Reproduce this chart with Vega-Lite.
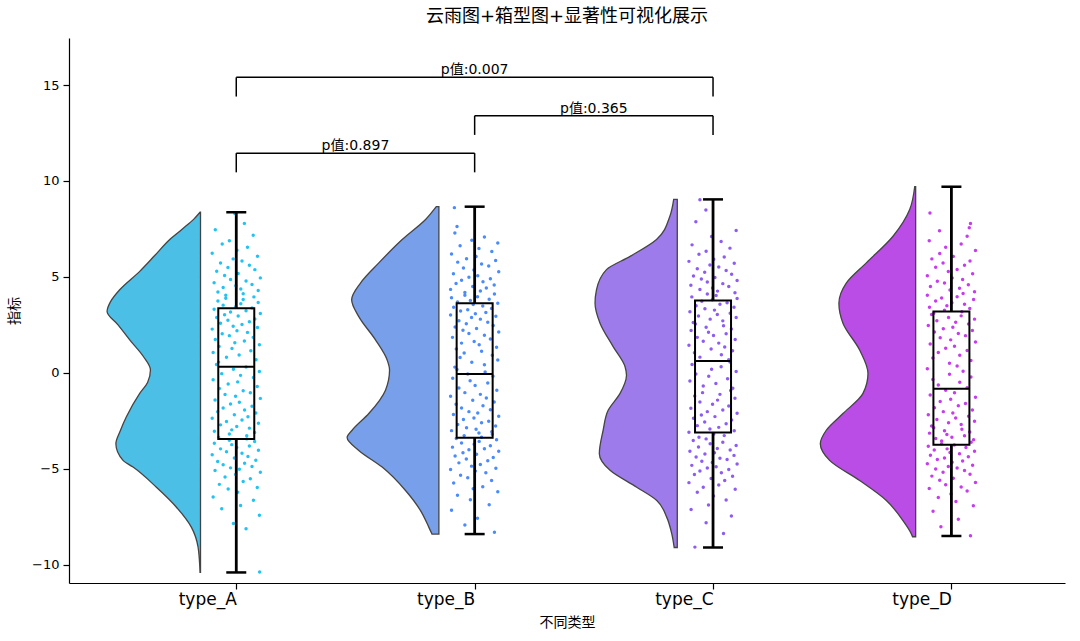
{
"$schema":"https://vega.github.io/schema/vega-lite/v6.json",
"width":996,"height":545,
"autosize":{"type":"none"},
"padding":{"left":69,"top":38,"right":15,"bottom":58},
"background":"white",
"title":{"text":"云雨图+箱型图+显著性可视化展示","fontSize":18,"font":"DejaVu Sans, Noto Sans CJK SC","fontWeight":"normal","color":"black","offset":12,"anchor":"middle"},
"config":{"view":{"stroke":null},"axis":{"domainColor":"black","tickColor":"black","labelColor":"black","titleColor":"black","grid":false,"labelFont":"DejaVu Sans","titleFont":"Noto Sans CJK SC","titleFontWeight":"normal","domainWidth":1.2,"tickWidth":1.2,"tickSize":6}},
"datasets":{
"violin":[
{"k":0,"v":8.37,"d":0.002},{"k":0,"v":8.0,"d":0.029},{"k":0,"v":7.5,"d":0.076},{"k":0,"v":6.95,"d":0.129},{"k":0,"v":6.1,"d":0.193},{"k":0,"v":5.29,"d":0.255},{"k":0,"v":4.33,"d":0.339},{"k":0,"v":3.7,"d":0.378},{"k":0,"v":3.2,"d":0.392},{"k":0,"v":2.5,"d":0.346},{"k":0,"v":1.72,"d":0.297},{"k":0,"v":0.84,"d":0.239},{"k":0,"v":0.15,"d":0.21},{"k":0,"v":-0.5,"d":0.222},{"k":0,"v":-1.07,"d":0.255},{"k":0,"v":-2.29,"d":0.311},{"k":0,"v":-3.0,"d":0.336},{"k":0,"v":-3.69,"d":0.355},{"k":0,"v":-4.56,"d":0.325},{"k":0,"v":-4.91,"d":0.283},{"k":0,"v":-5.96,"d":0.185},{"k":0,"v":-7.0,"d":0.101},{"k":0,"v":-8.05,"d":0.038},{"k":0,"v":-9.1,"d":0.01},{"k":0,"v":-10.4,"d":0.002},
{"k":1,"v":8.66,"d":0.011},{"k":1,"v":7.99,"d":0.056},{"k":1,"v":6.95,"d":0.154},{"k":1,"v":5.73,"d":0.252},{"k":1,"v":4.68,"d":0.329},{"k":1,"v":3.81,"d":0.366},{"k":1,"v":2.93,"d":0.336},{"k":1,"v":1.72,"d":0.266},{"k":1,"v":0.67,"d":0.217},{"k":1,"v":0.15,"d":0.207},{"k":1,"v":-0.9,"d":0.224},{"k":1,"v":-2.12,"d":0.294},{"k":1,"v":-2.99,"d":0.364},{"k":1,"v":-3.37,"d":0.385},{"k":1,"v":-4.04,"d":0.336},{"k":1,"v":-4.91,"d":0.238},{"k":1,"v":-6.13,"d":0.14},{"k":1,"v":-7.18,"d":0.077},{"k":1,"v":-8.05,"d":0.042},{"k":1,"v":-8.4,"d":0.029},
{"k":2,"v":9.04,"d":0.015},{"k":2,"v":8.16,"d":0.031},{"k":2,"v":6.95,"d":0.087},{"k":2,"v":6.07,"d":0.198},{"k":2,"v":5.38,"d":0.297},{"k":2,"v":4.33,"d":0.339},{"k":2,"v":3.63,"d":0.345},{"k":2,"v":2.59,"d":0.324},{"k":2,"v":1.37,"d":0.269},{"k":2,"v":0.32,"d":0.219},{"k":2,"v":-0.12,"d":0.213},{"k":2,"v":-1.07,"d":0.24},{"k":2,"v":-1.95,"d":0.29},{"k":2,"v":-2.99,"d":0.311},{"k":2,"v":-4.21,"d":0.327},{"k":2,"v":-5.08,"d":0.282},{"k":2,"v":-5.96,"d":0.17},{"k":2,"v":-6.65,"d":0.086},{"k":2,"v":-7.53,"d":0.044},{"k":2,"v":-8.39,"d":0.023},{"k":2,"v":-9.1,"d":0.013},
{"k":3,"v":9.7,"d":0.004},{"k":3,"v":8.51,"d":0.025},{"k":3,"v":7.12,"d":0.095},{"k":3,"v":5.73,"d":0.207},{"k":3,"v":4.68,"d":0.291},{"k":3,"v":3.63,"d":0.322},{"k":3,"v":2.59,"d":0.305},{"k":3,"v":1.19,"d":0.235},{"k":3,"v":-0.03,"d":0.2},{"k":3,"v":-1.07,"d":0.221},{"k":3,"v":-2.12,"d":0.305},{"k":3,"v":-2.99,"d":0.375},{"k":3,"v":-3.69,"d":0.4},{"k":3,"v":-4.56,"d":0.361},{"k":3,"v":-5.61,"d":0.235},{"k":3,"v":-6.65,"d":0.123},{"k":3,"v":-7.7,"d":0.053},{"k":3,"v":-8.39,"d":0.018},{"k":3,"v":-8.54,"d":0.013}
],
"pts":[
{"k":0,"j":0.098,"v":-10.38},{"k":0,"j":0.041,"v":-8.12},{"k":0,"j":-0.012,"v":-7.85},{"k":0,"j":0.097,"v":-7.42},{"k":0,"j":-0.061,"v":-7.08},{"k":0,"j":0.018,"v":-6.91},{"k":0,"j":0.072,"v":-6.64},{"k":0,"j":-0.097,"v":-6.47},{"k":0,"j":0.006,"v":-6.22},{"k":0,"j":-0.034,"v":-6.05},
{"k":0,"j":0.088,"v":-5.97},{"k":0,"j":-0.071,"v":-5.81},{"k":0,"j":0.029,"v":-5.66},{"k":0,"j":0.059,"v":-5.52},{"k":0,"j":-0.047,"v":-5.43},{"k":0,"j":-0.003,"v":-5.29},{"k":0,"j":0.101,"v":-5.18},{"k":0,"j":-0.089,"v":-5.09},{"k":0,"j":0.013,"v":-5.02},{"k":0,"j":-0.024,"v":-4.95},
{"k":0,"j":0.066,"v":-4.88},{"k":0,"j":-0.055,"v":-4.79},{"k":0,"j":0.035,"v":-4.71},{"k":0,"j":-0.078,"v":-4.62},{"k":0,"j":0.082,"v":-4.55},{"k":0,"j":-0.008,"v":-4.44},{"k":0,"j":0.049,"v":-4.36},{"k":0,"j":-0.101,"v":-4.27},{"k":0,"j":0.024,"v":-4.19},{"k":0,"j":-0.041,"v":-4.11},
{"k":0,"j":0.093,"v":-4.03},{"k":0,"j":-0.066,"v":-3.96},{"k":0,"j":0.002,"v":-3.89},{"k":0,"j":0.055,"v":-3.81},{"k":0,"j":-0.019,"v":-3.74},{"k":0,"j":-0.092,"v":-3.67},{"k":0,"j":0.077,"v":-3.58},{"k":0,"j":-0.029,"v":-3.51},{"k":0,"j":0.044,"v":-3.44},{"k":0,"j":-0.074,"v":-3.36},
{"k":0,"j":0.044,"v":-3.28},{"k":0,"j":-0.029,"v":-3.19},{"k":0,"j":0.077,"v":-3.11},{"k":0,"j":-0.092,"v":-3.04},{"k":0,"j":-0.019,"v":-2.97},{"k":0,"j":0.055,"v":-2.88},{"k":0,"j":0.002,"v":-2.79},{"k":0,"j":-0.066,"v":-2.71},{"k":0,"j":0.093,"v":-2.62},{"k":0,"j":-0.041,"v":-2.53},
{"k":0,"j":0.024,"v":-2.46},{"k":0,"j":-0.101,"v":-2.37},{"k":0,"j":0.049,"v":-2.29},{"k":0,"j":-0.008,"v":-2.18},{"k":0,"j":0.082,"v":-2.09},{"k":0,"j":-0.078,"v":-2.02},{"k":0,"j":0.035,"v":-1.94},{"k":0,"j":-0.055,"v":-1.83},{"k":0,"j":0.066,"v":-1.74},{"k":0,"j":-0.024,"v":-1.62},
{"k":0,"j":0.013,"v":-1.53},{"k":0,"j":-0.089,"v":-1.41},{"k":0,"j":0.101,"v":-1.33},{"k":0,"j":-0.003,"v":-1.22},{"k":0,"j":-0.047,"v":-1.13},{"k":0,"j":0.059,"v":-1.04},{"k":0,"j":0.029,"v":-0.93},{"k":0,"j":-0.071,"v":-0.82},{"k":0,"j":0.088,"v":-0.71},{"k":0,"j":-0.034,"v":-0.58},
{"k":0,"j":0.006,"v":-0.47},{"k":0,"j":-0.097,"v":-0.36},{"k":0,"j":0.072,"v":-0.24},{"k":0,"j":0.018,"v":-0.13},{"k":0,"j":-0.061,"v":-0.04},{"k":0,"j":0.097,"v":0.07},{"k":0,"j":-0.012,"v":0.19},{"k":0,"j":0.041,"v":0.31},{"k":0,"j":-0.083,"v":0.44},{"k":0,"j":-0.074,"v":0.56},
{"k":0,"j":0.083,"v":0.68},{"k":0,"j":-0.041,"v":0.81},{"k":0,"j":0.012,"v":0.93},{"k":0,"j":-0.097,"v":1.06},{"k":0,"j":0.061,"v":1.15},{"k":0,"j":-0.018,"v":1.27},{"k":0,"j":-0.072,"v":1.38},{"k":0,"j":0.097,"v":1.46},{"k":0,"j":-0.006,"v":1.57},{"k":0,"j":0.034,"v":1.66},
{"k":0,"j":-0.088,"v":1.74},{"k":0,"j":0.071,"v":1.85},{"k":0,"j":-0.029,"v":1.94},{"k":0,"j":-0.059,"v":2.04},{"k":0,"j":0.047,"v":2.11},{"k":0,"j":0.003,"v":2.19},{"k":0,"j":-0.101,"v":2.28},{"k":0,"j":0.089,"v":2.36},{"k":0,"j":-0.013,"v":2.43},{"k":0,"j":0.024,"v":2.52},
{"k":0,"j":-0.066,"v":2.58},{"k":0,"j":0.055,"v":2.66},{"k":0,"j":-0.035,"v":2.74},{"k":0,"j":0.078,"v":2.81},{"k":0,"j":-0.082,"v":2.89},{"k":0,"j":0.008,"v":2.96},{"k":0,"j":-0.049,"v":3.03},{"k":0,"j":0.101,"v":3.09},{"k":0,"j":-0.024,"v":3.17},{"k":0,"j":0.041,"v":3.24},
{"k":0,"j":-0.093,"v":3.31},{"k":0,"j":0.066,"v":3.38},{"k":0,"j":-0.002,"v":3.45},{"k":0,"j":-0.055,"v":3.53},{"k":0,"j":0.019,"v":3.6},{"k":0,"j":0.092,"v":3.67},{"k":0,"j":-0.077,"v":3.74},{"k":0,"j":0.029,"v":3.82},{"k":0,"j":-0.044,"v":3.89},{"k":0,"j":0.074,"v":3.96},
{"k":0,"j":-0.044,"v":4.05},{"k":0,"j":0.029,"v":4.12},{"k":0,"j":-0.077,"v":4.21},{"k":0,"j":0.092,"v":4.29},{"k":0,"j":0.019,"v":4.37},{"k":0,"j":-0.055,"v":4.45},{"k":0,"j":-0.002,"v":4.54},{"k":0,"j":0.066,"v":4.61},{"k":0,"j":-0.093,"v":4.7},{"k":0,"j":0.041,"v":4.79},
{"k":0,"j":-0.024,"v":4.86},{"k":0,"j":0.101,"v":4.95},{"k":0,"j":-0.049,"v":5.07},{"k":0,"j":0.008,"v":5.18},{"k":0,"j":-0.082,"v":5.29},{"k":0,"j":0.078,"v":5.38},{"k":0,"j":-0.035,"v":5.49},{"k":0,"j":0.055,"v":5.61},{"k":0,"j":-0.066,"v":5.72},{"k":0,"j":0.024,"v":5.83},
{"k":0,"j":-0.013,"v":5.94},{"k":0,"j":0.089,"v":6.08},{"k":0,"j":-0.101,"v":6.23},{"k":0,"j":0.003,"v":6.39},{"k":0,"j":0.047,"v":6.55},{"k":0,"j":-0.059,"v":6.71},{"k":0,"j":-0.029,"v":6.88},{"k":0,"j":0.071,"v":7.17},{"k":0,"j":-0.088,"v":7.46},{"k":0,"j":0.034,"v":7.79},{"k":0,"j":-0.006,"v":8.3},

{"k":1,"j":0.083,"v":-8.31},{"k":1,"j":-0.041,"v":-7.93},{"k":1,"j":0.012,"v":-7.58},{"k":1,"j":-0.097,"v":-7.16},{"k":1,"j":0.061,"v":-6.87},{"k":1,"j":-0.018,"v":-6.61},{"k":1,"j":-0.072,"v":-6.38},{"k":1,"j":0.097,"v":-6.19},{"k":1,"j":-0.006,"v":-6.04},{"k":1,"j":0.034,"v":-5.93},
{"k":1,"j":-0.088,"v":-5.74},{"k":1,"j":0.071,"v":-5.61},{"k":1,"j":-0.029,"v":-5.47},{"k":1,"j":-0.059,"v":-5.33},{"k":1,"j":0.047,"v":-5.21},{"k":1,"j":0.003,"v":-5.12},{"k":1,"j":-0.101,"v":-5.03},{"k":1,"j":0.089,"v":-4.97},{"k":1,"j":-0.013,"v":-4.86},{"k":1,"j":0.024,"v":-4.78},
{"k":1,"j":-0.066,"v":-4.69},{"k":1,"j":0.055,"v":-4.58},{"k":1,"j":-0.035,"v":-4.49},{"k":1,"j":0.078,"v":-4.41},{"k":1,"j":-0.082,"v":-4.33},{"k":1,"j":0.008,"v":-4.24},{"k":1,"j":-0.049,"v":-4.16},{"k":1,"j":0.101,"v":-4.08},{"k":1,"j":-0.024,"v":-4.01},{"k":1,"j":0.041,"v":-3.95},
{"k":1,"j":-0.093,"v":-3.87},{"k":1,"j":0.066,"v":-3.8},{"k":1,"j":-0.002,"v":-3.72},{"k":1,"j":-0.055,"v":-3.65},{"k":1,"j":0.019,"v":-3.57},{"k":1,"j":0.092,"v":-3.49},{"k":1,"j":-0.077,"v":-3.42},{"k":1,"j":0.029,"v":-3.35},{"k":1,"j":-0.044,"v":-3.27},{"k":1,"j":0.074,"v":-3.2},
{"k":1,"j":0.018,"v":-3.13},{"k":1,"j":0.072,"v":-3.07},{"k":1,"j":-0.097,"v":-3.01},{"k":1,"j":0.006,"v":-2.94},{"k":1,"j":-0.034,"v":-2.86},{"k":1,"j":0.088,"v":-2.77},{"k":1,"j":-0.071,"v":-2.69},{"k":1,"j":0.029,"v":-2.6},{"k":1,"j":0.059,"v":-2.52},{"k":1,"j":-0.047,"v":-2.43},
{"k":1,"j":-0.003,"v":-2.35},{"k":1,"j":0.101,"v":-2.26},{"k":1,"j":-0.089,"v":-2.17},{"k":1,"j":0.013,"v":-2.09},{"k":1,"j":-0.024,"v":-2.02},{"k":1,"j":0.066,"v":-1.92},{"k":1,"j":-0.055,"v":-1.83},{"k":1,"j":0.035,"v":-1.71},{"k":1,"j":-0.078,"v":-1.63},{"k":1,"j":0.082,"v":-1.52},
{"k":1,"j":-0.008,"v":-1.43},{"k":1,"j":0.049,"v":-1.31},{"k":1,"j":-0.101,"v":-1.22},{"k":1,"j":0.024,"v":-1.12},{"k":1,"j":-0.041,"v":-1.03},{"k":1,"j":0.093,"v":-0.91},{"k":1,"j":-0.066,"v":-0.79},{"k":1,"j":0.002,"v":-0.66},{"k":1,"j":0.055,"v":-0.53},{"k":1,"j":-0.019,"v":-0.41},
{"k":1,"j":-0.092,"v":-0.28},{"k":1,"j":0.077,"v":-0.17},{"k":1,"j":-0.029,"v":-0.06},{"k":1,"j":0.044,"v":0.05},{"k":1,"j":-0.074,"v":0.17},{"k":1,"j":-0.083,"v":0.3},{"k":1,"j":0.041,"v":0.42},{"k":1,"j":-0.012,"v":0.55},{"k":1,"j":0.097,"v":0.67},{"k":1,"j":-0.061,"v":0.8},
{"k":1,"j":0.074,"v":0.92},{"k":1,"j":-0.044,"v":1.04},{"k":1,"j":0.029,"v":1.13},{"k":1,"j":-0.077,"v":1.25},{"k":1,"j":0.092,"v":1.34},{"k":1,"j":0.019,"v":1.46},{"k":1,"j":-0.055,"v":1.55},{"k":1,"j":-0.002,"v":1.64},{"k":1,"j":0.066,"v":1.76},{"k":1,"j":-0.093,"v":1.85},
{"k":1,"j":0.041,"v":1.96},{"k":1,"j":-0.024,"v":2.05},{"k":1,"j":0.101,"v":2.13},{"k":1,"j":-0.049,"v":2.22},{"k":1,"j":0.008,"v":2.31},{"k":1,"j":-0.082,"v":2.39},{"k":1,"j":0.078,"v":2.47},{"k":1,"j":-0.035,"v":2.56},{"k":1,"j":0.055,"v":2.64},{"k":1,"j":-0.066,"v":2.72},
{"k":1,"j":0.024,"v":2.8},{"k":1,"j":-0.013,"v":2.88},{"k":1,"j":0.089,"v":2.95},{"k":1,"j":-0.101,"v":3.02},{"k":1,"j":0.003,"v":3.08},{"k":1,"j":0.047,"v":3.15},{"k":1,"j":-0.059,"v":3.22},{"k":1,"j":-0.029,"v":3.29},{"k":1,"j":0.071,"v":3.36},{"k":1,"j":-0.088,"v":3.42},
{"k":1,"j":0.034,"v":3.49},{"k":1,"j":-0.006,"v":3.56},{"k":1,"j":0.097,"v":3.63},{"k":1,"j":-0.072,"v":3.7},{"k":1,"j":-0.018,"v":3.77},{"k":1,"j":0.061,"v":3.84},{"k":1,"j":-0.097,"v":3.91},{"k":1,"j":0.012,"v":3.97},{"k":1,"j":-0.041,"v":4.04},{"k":1,"j":0.083,"v":4.11},
{"k":1,"j":-0.041,"v":4.19},{"k":1,"j":0.024,"v":4.27},{"k":1,"j":-0.101,"v":4.35},{"k":1,"j":0.049,"v":4.42},{"k":1,"j":-0.008,"v":4.5},{"k":1,"j":0.082,"v":4.58},{"k":1,"j":-0.078,"v":4.66},{"k":1,"j":0.035,"v":4.75},{"k":1,"j":-0.055,"v":4.83},{"k":1,"j":0.066,"v":4.91},
{"k":1,"j":-0.024,"v":4.98},{"k":1,"j":0.013,"v":5.06},{"k":1,"j":-0.089,"v":5.16},{"k":1,"j":0.101,"v":5.27},{"k":1,"j":-0.003,"v":5.36},{"k":1,"j":-0.047,"v":5.46},{"k":1,"j":0.059,"v":5.57},{"k":1,"j":0.029,"v":5.67},{"k":1,"j":-0.071,"v":5.77},{"k":1,"j":0.088,"v":5.86},
{"k":1,"j":-0.034,"v":5.95},{"k":1,"j":0.006,"v":6.06},{"k":1,"j":-0.097,"v":6.19},{"k":1,"j":0.072,"v":6.33},{"k":1,"j":0.018,"v":6.48},{"k":1,"j":-0.061,"v":6.62},{"k":1,"j":0.097,"v":6.77},{"k":1,"j":-0.012,"v":6.91},{"k":1,"j":0.041,"v":7.08},{"k":1,"j":-0.083,"v":7.29},
{"k":1,"j":-0.074,"v":7.63},{"k":1,"j":-0.085,"v":8.61},

{"k":2,"j":-0.076,"v":-9.08},{"k":2,"j":0.044,"v":-8.37},{"k":2,"j":-0.029,"v":-7.81},{"k":2,"j":0.077,"v":-7.46},{"k":2,"j":-0.092,"v":-7.12},{"k":2,"j":-0.019,"v":-6.89},{"k":2,"j":0.055,"v":-6.63},{"k":2,"j":0.002,"v":-6.41},{"k":2,"j":-0.066,"v":-6.22},{"k":2,"j":0.093,"v":-6.07},
{"k":2,"j":-0.041,"v":-5.96},{"k":2,"j":0.024,"v":-5.84},{"k":2,"j":-0.101,"v":-5.72},{"k":2,"j":0.049,"v":-5.61},{"k":2,"j":-0.008,"v":-5.5},{"k":2,"j":0.082,"v":-5.39},{"k":2,"j":-0.078,"v":-5.3},{"k":2,"j":0.035,"v":-5.2},{"k":2,"j":-0.055,"v":-5.11},{"k":2,"j":0.066,"v":-5.03},
{"k":2,"j":-0.024,"v":-4.96},{"k":2,"j":0.013,"v":-4.89},{"k":2,"j":-0.089,"v":-4.82},{"k":2,"j":0.101,"v":-4.75},{"k":2,"j":-0.003,"v":-4.67},{"k":2,"j":-0.047,"v":-4.6},{"k":2,"j":0.059,"v":-4.52},{"k":2,"j":0.029,"v":-4.45},{"k":2,"j":-0.071,"v":-4.38},{"k":2,"j":0.088,"v":-4.3},
{"k":2,"j":-0.034,"v":-4.23},{"k":2,"j":0.006,"v":-4.16},{"k":2,"j":-0.097,"v":-4.09},{"k":2,"j":0.072,"v":-4.02},{"k":2,"j":0.018,"v":-3.94},{"k":2,"j":-0.061,"v":-3.86},{"k":2,"j":0.097,"v":-3.78},{"k":2,"j":-0.012,"v":-3.69},{"k":2,"j":0.041,"v":-3.61},{"k":2,"j":-0.083,"v":-3.52},
{"k":2,"j":-0.029,"v":-3.44},{"k":2,"j":-0.059,"v":-3.35},{"k":2,"j":0.047,"v":-3.27},{"k":2,"j":0.003,"v":-3.18},{"k":2,"j":-0.101,"v":-3.1},{"k":2,"j":0.089,"v":-3.02},{"k":2,"j":-0.013,"v":-2.93},{"k":2,"j":0.024,"v":-2.84},{"k":2,"j":-0.066,"v":-2.75},{"k":2,"j":0.055,"v":-2.65},
{"k":2,"j":-0.035,"v":-2.56},{"k":2,"j":0.078,"v":-2.46},{"k":2,"j":-0.082,"v":-2.37},{"k":2,"j":0.008,"v":-2.28},{"k":2,"j":-0.049,"v":-2.19},{"k":2,"j":0.101,"v":-2.1},{"k":2,"j":-0.024,"v":-2.02},{"k":2,"j":0.041,"v":-1.93},{"k":2,"j":-0.093,"v":-1.84},{"k":2,"j":0.066,"v":-1.73},
{"k":2,"j":-0.002,"v":-1.63},{"k":2,"j":-0.055,"v":-1.52},{"k":2,"j":0.019,"v":-1.42},{"k":2,"j":0.092,"v":-1.32},{"k":2,"j":-0.077,"v":-1.21},{"k":2,"j":0.029,"v":-1.12},{"k":2,"j":-0.044,"v":-1.03},{"k":2,"j":0.074,"v":-0.92},{"k":2,"j":0.083,"v":-0.8},{"k":2,"j":-0.041,"v":-0.68},
{"k":2,"j":0.012,"v":-0.55},{"k":2,"j":-0.097,"v":-0.42},{"k":2,"j":0.061,"v":-0.31},{"k":2,"j":-0.018,"v":-0.18},{"k":2,"j":-0.072,"v":-0.06},{"k":2,"j":0.097,"v":0.07},{"k":2,"j":-0.006,"v":0.19},{"k":2,"j":0.034,"v":0.32},{"k":2,"j":-0.088,"v":0.44},{"k":2,"j":0.071,"v":0.57},
{"k":2,"j":0.066,"v":0.69},{"k":2,"j":-0.055,"v":0.82},{"k":2,"j":0.035,"v":0.94},{"k":2,"j":-0.078,"v":1.05},{"k":2,"j":0.082,"v":1.15},{"k":2,"j":-0.008,"v":1.24},{"k":2,"j":0.049,"v":1.35},{"k":2,"j":-0.101,"v":1.44},{"k":2,"j":0.024,"v":1.55},{"k":2,"j":-0.041,"v":1.65},
{"k":2,"j":0.093,"v":1.74},{"k":2,"j":-0.066,"v":1.85},{"k":2,"j":0.002,"v":1.95},{"k":2,"j":0.055,"v":2.04},{"k":2,"j":-0.019,"v":2.12},{"k":2,"j":-0.092,"v":2.21},{"k":2,"j":0.077,"v":2.29},{"k":2,"j":-0.029,"v":2.38},{"k":2,"j":0.044,"v":2.46},{"k":2,"j":-0.074,"v":2.55},
{"k":2,"j":-0.083,"v":2.63},{"k":2,"j":0.041,"v":2.71},{"k":2,"j":-0.012,"v":2.8},{"k":2,"j":0.097,"v":2.88},{"k":2,"j":-0.061,"v":2.96},{"k":2,"j":0.018,"v":3.04},{"k":2,"j":0.072,"v":3.11},{"k":2,"j":-0.097,"v":3.19},{"k":2,"j":0.006,"v":3.27},{"k":2,"j":-0.034,"v":3.34},
{"k":2,"j":0.088,"v":3.42},{"k":2,"j":-0.071,"v":3.5},{"k":2,"j":0.029,"v":3.58},{"k":2,"j":0.059,"v":3.65},{"k":2,"j":-0.047,"v":3.73},{"k":2,"j":-0.003,"v":3.81},{"k":2,"j":0.101,"v":3.88},{"k":2,"j":-0.089,"v":3.96},{"k":2,"j":0.013,"v":4.03},{"k":2,"j":-0.024,"v":4.11},
{"k":2,"j":0.092,"v":4.18},{"k":2,"j":0.019,"v":4.26},{"k":2,"j":-0.055,"v":4.34},{"k":2,"j":-0.002,"v":4.42},{"k":2,"j":0.066,"v":4.5},{"k":2,"j":-0.093,"v":4.57},{"k":2,"j":0.041,"v":4.65},{"k":2,"j":-0.024,"v":4.73},{"k":2,"j":0.101,"v":4.81},{"k":2,"j":-0.049,"v":4.89},
{"k":2,"j":0.008,"v":4.97},{"k":2,"j":-0.082,"v":5.05},{"k":2,"j":0.078,"v":5.14},{"k":2,"j":-0.035,"v":5.24},{"k":2,"j":0.055,"v":5.33},{"k":2,"j":-0.066,"v":5.43},{"k":2,"j":0.024,"v":5.52},{"k":2,"j":-0.013,"v":5.62},{"k":2,"j":0.089,"v":5.71},{"k":2,"j":-0.101,"v":5.81},
{"k":2,"j":0.003,"v":5.92},{"k":2,"j":0.047,"v":6.04},{"k":2,"j":-0.059,"v":6.18},{"k":2,"j":-0.029,"v":6.34},{"k":2,"j":0.071,"v":6.5},{"k":2,"j":-0.088,"v":6.67},{"k":2,"j":0.034,"v":6.85},{"k":2,"j":-0.006,"v":7.11},{"k":2,"j":0.097,"v":7.42},{"k":2,"j":-0.072,"v":7.87},
{"k":2,"j":-0.03,"v":8.49},{"k":2,"j":-0.055,"v":9.02},

{"k":3,"j":0.08,"v":-8.49},{"k":3,"j":-0.044,"v":-8.02},{"k":3,"j":0.029,"v":-7.63},{"k":3,"j":-0.077,"v":-7.21},{"k":3,"j":0.092,"v":-6.92},{"k":3,"j":0.019,"v":-6.7},{"k":3,"j":-0.055,"v":-6.49},{"k":3,"j":-0.002,"v":-6.31},{"k":3,"j":0.066,"v":-6.16},{"k":3,"j":-0.093,"v":-6.03},
{"k":3,"j":0.041,"v":-5.95},{"k":3,"j":-0.024,"v":-5.83},{"k":3,"j":0.101,"v":-5.71},{"k":3,"j":-0.049,"v":-5.6},{"k":3,"j":0.008,"v":-5.49},{"k":3,"j":-0.082,"v":-5.38},{"k":3,"j":0.078,"v":-5.28},{"k":3,"j":-0.035,"v":-5.18},{"k":3,"j":0.055,"v":-5.09},{"k":3,"j":-0.066,"v":-5.01},
{"k":3,"j":0.024,"v":-4.96},{"k":3,"j":-0.013,"v":-4.88},{"k":3,"j":0.089,"v":-4.81},{"k":3,"j":-0.101,"v":-4.74},{"k":3,"j":0.003,"v":-4.66},{"k":3,"j":0.047,"v":-4.59},{"k":3,"j":-0.059,"v":-4.51},{"k":3,"j":-0.029,"v":-4.44},{"k":3,"j":0.071,"v":-4.37},{"k":3,"j":-0.088,"v":-4.29},
{"k":3,"j":0.034,"v":-4.22},{"k":3,"j":-0.006,"v":-4.15},{"k":3,"j":0.097,"v":-4.08},{"k":3,"j":-0.072,"v":-4.02},{"k":3,"j":-0.018,"v":-3.96},{"k":3,"j":0.061,"v":-3.89},{"k":3,"j":-0.097,"v":-3.82},{"k":3,"j":0.012,"v":-3.76},{"k":3,"j":-0.041,"v":-3.69},{"k":3,"j":0.083,"v":-3.62},
{"k":3,"j":-0.041,"v":-3.55},{"k":3,"j":0.093,"v":-3.49},{"k":3,"j":-0.066,"v":-3.42},{"k":3,"j":0.002,"v":-3.35},{"k":3,"j":0.055,"v":-3.28},{"k":3,"j":-0.019,"v":-3.21},{"k":3,"j":-0.092,"v":-3.14},{"k":3,"j":0.077,"v":-3.08},{"k":3,"j":-0.029,"v":-3.02},{"k":3,"j":0.044,"v":-2.94},
{"k":3,"j":-0.074,"v":-2.86},{"k":3,"j":-0.083,"v":-2.77},{"k":3,"j":0.041,"v":-2.69},{"k":3,"j":-0.012,"v":-2.6},{"k":3,"j":0.097,"v":-2.52},{"k":3,"j":-0.061,"v":-2.43},{"k":3,"j":0.018,"v":-2.35},{"k":3,"j":0.072,"v":-2.26},{"k":3,"j":-0.097,"v":-2.18},{"k":3,"j":0.006,"v":-2.09},
{"k":3,"j":-0.034,"v":-2.02},{"k":3,"j":0.088,"v":-1.93},{"k":3,"j":-0.071,"v":-1.82},{"k":3,"j":0.029,"v":-1.71},{"k":3,"j":0.059,"v":-1.6},{"k":3,"j":-0.047,"v":-1.49},{"k":3,"j":-0.003,"v":-1.38},{"k":3,"j":0.101,"v":-1.27},{"k":3,"j":-0.089,"v":-1.15},{"k":3,"j":0.013,"v":-1.04},
{"k":3,"j":-0.024,"v":-0.91},{"k":3,"j":0.066,"v":-0.77},{"k":3,"j":-0.055,"v":-0.63},{"k":3,"j":0.035,"v":-0.49},{"k":3,"j":-0.078,"v":-0.35},{"k":3,"j":0.082,"v":-0.21},{"k":3,"j":-0.008,"v":-0.07},{"k":3,"j":0.049,"v":0.08},{"k":3,"j":-0.101,"v":0.22},{"k":3,"j":0.024,"v":0.36},
{"k":3,"j":-0.008,"v":0.5},{"k":3,"j":0.082,"v":0.64},{"k":3,"j":-0.078,"v":0.78},{"k":3,"j":0.035,"v":0.92},{"k":3,"j":-0.055,"v":1.06},{"k":3,"j":0.066,"v":1.17},{"k":3,"j":-0.024,"v":1.28},{"k":3,"j":0.013,"v":1.39},{"k":3,"j":-0.089,"v":1.5},{"k":3,"j":0.101,"v":1.61},
{"k":3,"j":-0.003,"v":1.72},{"k":3,"j":-0.047,"v":1.83},{"k":3,"j":0.059,"v":1.94},{"k":3,"j":0.029,"v":2.05},{"k":3,"j":-0.071,"v":2.13},{"k":3,"j":0.088,"v":2.21},{"k":3,"j":-0.034,"v":2.3},{"k":3,"j":0.006,"v":2.38},{"k":3,"j":-0.097,"v":2.47},{"k":3,"j":0.072,"v":2.55},
{"k":3,"j":0.018,"v":2.64},{"k":3,"j":-0.061,"v":2.72},{"k":3,"j":0.097,"v":2.8},{"k":3,"j":-0.012,"v":2.89},{"k":3,"j":0.041,"v":2.97},{"k":3,"j":-0.083,"v":3.04},{"k":3,"j":-0.074,"v":3.11},{"k":3,"j":0.044,"v":3.19},{"k":3,"j":-0.029,"v":3.27},{"k":3,"j":0.077,"v":3.35},
{"k":3,"j":-0.092,"v":3.42},{"k":3,"j":-0.019,"v":3.5},{"k":3,"j":0.055,"v":3.58},{"k":3,"j":0.002,"v":3.66},{"k":3,"j":-0.066,"v":3.74},{"k":3,"j":0.093,"v":3.82},{"k":3,"j":-0.041,"v":3.9},{"k":3,"j":0.024,"v":3.97},{"k":3,"j":-0.101,"v":4.05},{"k":3,"j":0.049,"v":4.14},
{"k":3,"j":0.097,"v":4.23},{"k":3,"j":-0.006,"v":4.32},{"k":3,"j":0.034,"v":4.41},{"k":3,"j":-0.088,"v":4.5},{"k":3,"j":0.071,"v":4.59},{"k":3,"j":-0.029,"v":4.68},{"k":3,"j":-0.059,"v":4.77},{"k":3,"j":0.047,"v":4.86},{"k":3,"j":0.003,"v":4.95},{"k":3,"j":-0.101,"v":5.06},
{"k":3,"j":0.089,"v":5.17},{"k":3,"j":-0.013,"v":5.28},{"k":3,"j":0.024,"v":5.39},{"k":3,"j":-0.066,"v":5.5},{"k":3,"j":0.055,"v":5.61},{"k":3,"j":-0.035,"v":5.72},{"k":3,"j":0.078,"v":5.83},{"k":3,"j":-0.082,"v":5.94},{"k":3,"j":0.008,"v":6.07},{"k":3,"j":-0.049,"v":6.22},
{"k":3,"j":0.101,"v":6.38},{"k":3,"j":-0.024,"v":6.55},{"k":3,"j":0.041,"v":6.72},{"k":3,"j":-0.093,"v":6.89},{"k":3,"j":0.066,"v":7.12},{"k":3,"j":-0.05,"v":7.41},{"k":3,"j":0.075,"v":7.56},{"k":3,"j":0.08,"v":7.78},{"k":3,"j":-0.09,"v":8.33}
],
"box":[
{"k":0,"lo":-10.4,"q1":-3.45,"md":0.32,"q3":3.37,"hi":8.37},
{"k":1,"lo":-8.4,"q1":-3.38,"md":-0.06,"q3":3.63,"hi":8.66},
{"k":2,"lo":-9.1,"q1":-3.11,"md":0.62,"q3":3.77,"hi":9.04},
{"k":3,"lo":-8.5,"q1":-3.74,"md":-0.83,"q3":3.2,"hi":9.7}
],
"br":[
{"a":0,"b":2,"y":15.4,"yl":14.4,"t":"p值:0.007"},
{"a":1,"b":2,"y":13.4,"yl":12.4,"t":"p值:0.365"},
{"a":0,"b":1,"y":11.45,"yl":10.45,"t":"p值:0.897"}
]
},
"encoding":{
"x":{"field":"x","type":"quantitative","title":"不同类型","scale":{"domain":[-0.7017,3.4765],"nice":false,"zero":false,"padding":0},
 "axis":{"values":[0,1,2,3],"labelExpr":"['type_A','type_B','type_C','type_D'][datum.value]","labelAlign":"right","labelFontSize":17,"labelPadding":2,"titleFontSize":14,"titlePadding":8}},
"y":{"field":"v","type":"quantitative","title":"指标","scale":{"domain":[-10.95,17.45],"nice":false,"zero":false,"padding":0},
 "axis":{"values":[-10,-5,0,5,10,15],"labelFontSize":13,"labelPadding":4,"titleFontSize":14,"titlePadding":10}}
},
"layer":[
{"data":{"name":"violin"},
 "transform":[{"calculate":"datum.k - 0.15 - datum.d","as":"x"},{"calculate":"datum.k - 0.15","as":"xe"}],
 "mark":{"type":"area","orient":"horizontal","interpolate":"monotone","stroke":"#444444","strokeWidth":1.3,"fillOpacity":1},
 "encoding":{"x2":{"field":"xe"},"fill":{"field":"k","type":"nominal","scale":{"domain":[0,1,2,3],"range":["#4BBFE6","#789FEA","#9D7BEB","#B94DE6"]},"legend":null}}},
{"data":{"name":"pts"},
 "transform":[{"calculate":"datum.k + datum.j","as":"x"}],
 "mark":{"type":"circle","size":12,"opacity":1},
 "encoding":{"color":{"field":"k","type":"nominal","scale":{"domain":[0,1,2,3],"range":["#22C3F3","#4B8BFB","#8D5CF3","#C63CEE"]},"legend":null}}},
{"data":{"name":"box"},"transform":[{"calculate":"datum.k","as":"x"}],
 "mark":{"type":"rule","color":"black","strokeWidth":2.8},
 "encoding":{"y":{"field":"lo","type":"quantitative","title":"指标"},"y2":{"field":"q1"}}},
{"data":{"name":"box"},"transform":[{"calculate":"datum.k","as":"x"}],
 "mark":{"type":"rule","color":"black","strokeWidth":2.8},
 "encoding":{"y":{"field":"q3","type":"quantitative","title":"指标"},"y2":{"field":"hi"}}},
{"data":{"name":"box"},"transform":[{"calculate":"datum.k","as":"x"}],
 "mark":{"type":"bar","width":36,"fillOpacity":0,"stroke":"black","strokeWidth":2},
 "encoding":{"y":{"field":"q1","type":"quantitative","title":"指标"},"y2":{"field":"q3"}}},
{"data":{"name":"box"},"transform":[{"calculate":"datum.k","as":"x"}],
 "mark":{"type":"tick","orient":"horizontal","size":36,"thickness":2,"color":"black","opacity":1},
 "encoding":{"y":{"field":"md","type":"quantitative","title":"指标"}}},
{"data":{"name":"box"},"transform":[{"calculate":"datum.k","as":"x"}],
 "mark":{"type":"tick","orient":"horizontal","size":20,"thickness":2.5,"color":"black","opacity":1},
 "encoding":{"y":{"field":"lo","type":"quantitative","title":"指标"}}},
{"data":{"name":"box"},"transform":[{"calculate":"datum.k","as":"x"}],
 "mark":{"type":"tick","orient":"horizontal","size":20,"thickness":2.5,"color":"black","opacity":1},
 "encoding":{"y":{"field":"hi","type":"quantitative","title":"指标"}}},
{"data":{"name":"br"},
 "mark":{"type":"rule","color":"black","strokeWidth":1.5},
 "encoding":{"x":{"field":"a","type":"quantitative","title":"不同类型"},"x2":{"field":"b"},"y":{"field":"y","type":"quantitative","title":"指标"}}},
{"data":{"name":"br"},
 "mark":{"type":"rule","color":"black","strokeWidth":1.5},
 "encoding":{"x":{"field":"a","type":"quantitative","title":"不同类型"},"y":{"field":"yl","type":"quantitative","title":"指标"},"y2":{"field":"y"}}},
{"data":{"name":"br"},
 "mark":{"type":"rule","color":"black","strokeWidth":1.5},
 "encoding":{"x":{"field":"b","type":"quantitative","title":"不同类型"},"y":{"field":"yl","type":"quantitative","title":"指标"},"y2":{"field":"y"}}},
{"data":{"name":"br"},
 "transform":[{"calculate":"(datum.a + datum.b) / 2","as":"x"}],
 "mark":{"type":"text","font":"DejaVu Sans, Noto Sans CJK SC","fontSize":14,"baseline":"alphabetic","align":"center","dy":-3,"color":"black"},
 "encoding":{"y":{"field":"y","type":"quantitative","title":"指标"},"text":{"field":"t"}}}
]
}
